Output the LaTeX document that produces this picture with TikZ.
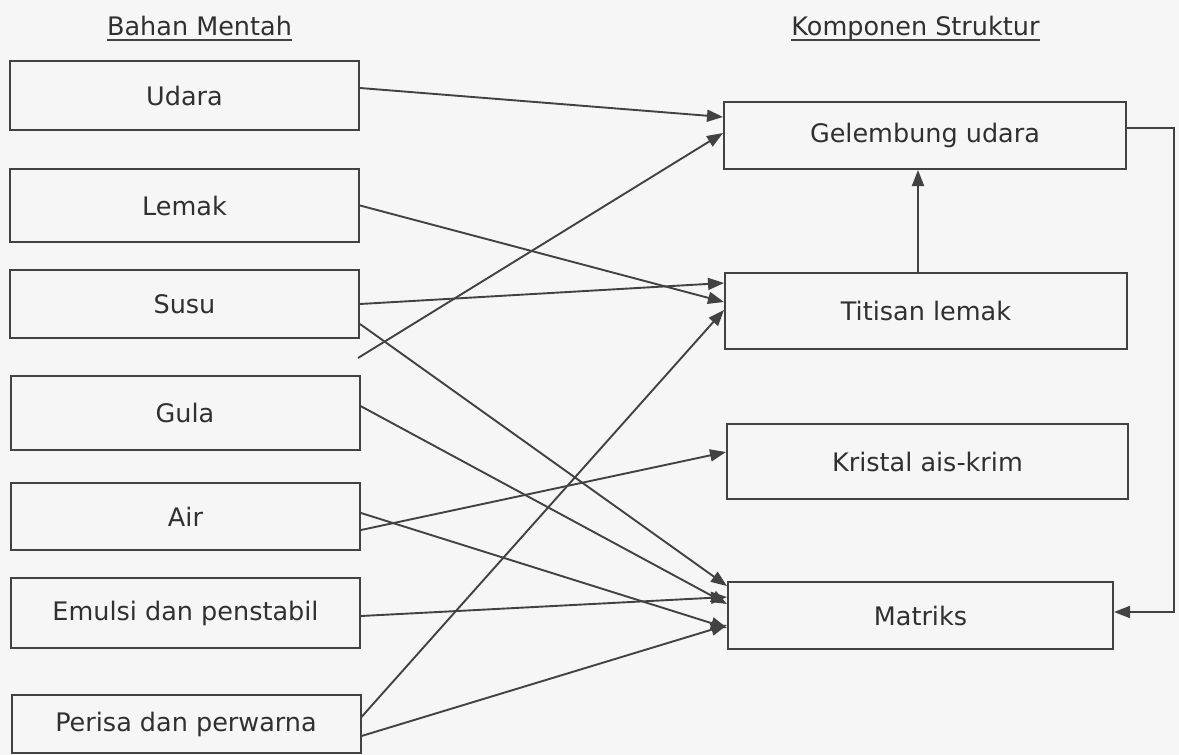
\documentclass[tikz,border=0pt]{standalone}
\usepackage{fontspec}
\setmainfont{DejaVu Sans}
\usetikzlibrary{arrows.meta}
\definecolor{bgc}{RGB}{246,246,246}
\definecolor{lnc}{RGB}{66,66,66}
\definecolor{txc}{RGB}{48,48,48}
\begin{document}
\begin{tikzpicture}[x=1pt,y=-1pt,
  box/.style={draw=lnc, line width=2pt, rectangle, inner sep=0pt, text=txc,
    font=\fontsize{25.5}{30}\selectfont},
  lbox/.style={box, minimum width=349pt},
  ttl/.style={inner sep=0pt, anchor=base, text=txc, font=\fontsize{25.5}{30}\selectfont},
  arr/.style={draw=lnc, line width=1.9pt, -{Triangle[length=16pt,width=12pt]}},
  ln/.style={draw=lnc, line width=1.9pt}]
\fill[bgc] (0,0) rectangle (1179,755);
\useasboundingbox (0,0) rectangle (1179,755);
% titles
\node[ttl] (t1) at (199.5,35) {Bahan Mentah};
\node[ttl] (t2) at (915.5,35) {Komponen Struktur};
\draw[ln, line width=1.4pt] ([yshift=-5pt]t1.base west) -- ([yshift=-5pt]t1.base east);
\draw[ln, line width=1.4pt] ([yshift=-5pt]t2.base west) -- ([yshift=-5pt]t2.base east);
% left boxes
\node[lbox, minimum height=69pt] (udara) at (184.5,95.5) {Udara};
\node[lbox, minimum height=73pt] (lemak) at (184.5,205.5) {Lemak};
\node[lbox, minimum height=68pt] (susu) at (184.5,304) {Susu};
\node[lbox, minimum height=74pt] (gula) at (185,413) {Gula};
\node[lbox, minimum height=67pt] (air) at (185.5,516.5) {Air};
\node[lbox, minimum height=70pt] (emulsi) at (185.5,613) {Emulsi dan penstabil};
\node[lbox, minimum height=58pt] (perisa) at (186,724) {Perisa dan perwarna};
% right boxes
\node[box, minimum width=402pt, minimum height=67pt] (gel) at (925,135.5) {Gelembung udara};
\node[box, minimum width=402pt, minimum height=76pt] (tit) at (926,311) {Titisan lemak};
\node[box, minimum width=401pt, minimum height=75pt] (kri) at (927.5,461.5) {Kristal ais-krim};
\node[box, minimum width=385pt, minimum height=67pt] (mat) at (920.5,615.5) {Matriks};
\coordinate (free) at (358,358);
% connectors
\draw[arr] ([yshift=7.5pt]udara.east) -- ([yshift=18.5pt]gel.west);
\draw[arr] (lemak.east) -- ([yshift=9pt]tit.west);
\draw[arr] (susu.east) -- ([yshift=28pt]tit.west);
\draw[arr] ([yshift=-20pt]susu.east) -- ([yshift=29.5pt]mat.west);
\draw[arr] (free) -- ([yshift=2.5pt]gel.west);
\draw[arr] ([yshift=7pt]gula.east) -- ([yshift=11.5pt]mat.west);
\draw[arr] ([yshift=3.5pt]air.east) -- ([yshift=-12.5pt]mat.west);
\draw[arr] ([yshift=-13.5pt]air.east) -- ([yshift=9.5pt]kri.west);
\draw[arr] ([yshift=-3pt]emulsi.east) -- ([yshift=18.5pt]mat.west);
\draw[arr] ([yshift=7pt]perisa.east) -- ([yshift=1pt]tit.west);
\draw[arr] ([yshift=-12pt]perisa.east) -- ([yshift=-9.5pt]mat.west);
\draw[arr] ([xshift=-8pt]tit.north) -- ([xshift=-7pt]gel.south);
\draw[arr] ([yshift=7.5pt]gel.east) -- ++(47,0) |- ([yshift=3.5pt]mat.east);
\end{tikzpicture}
\end{document}
